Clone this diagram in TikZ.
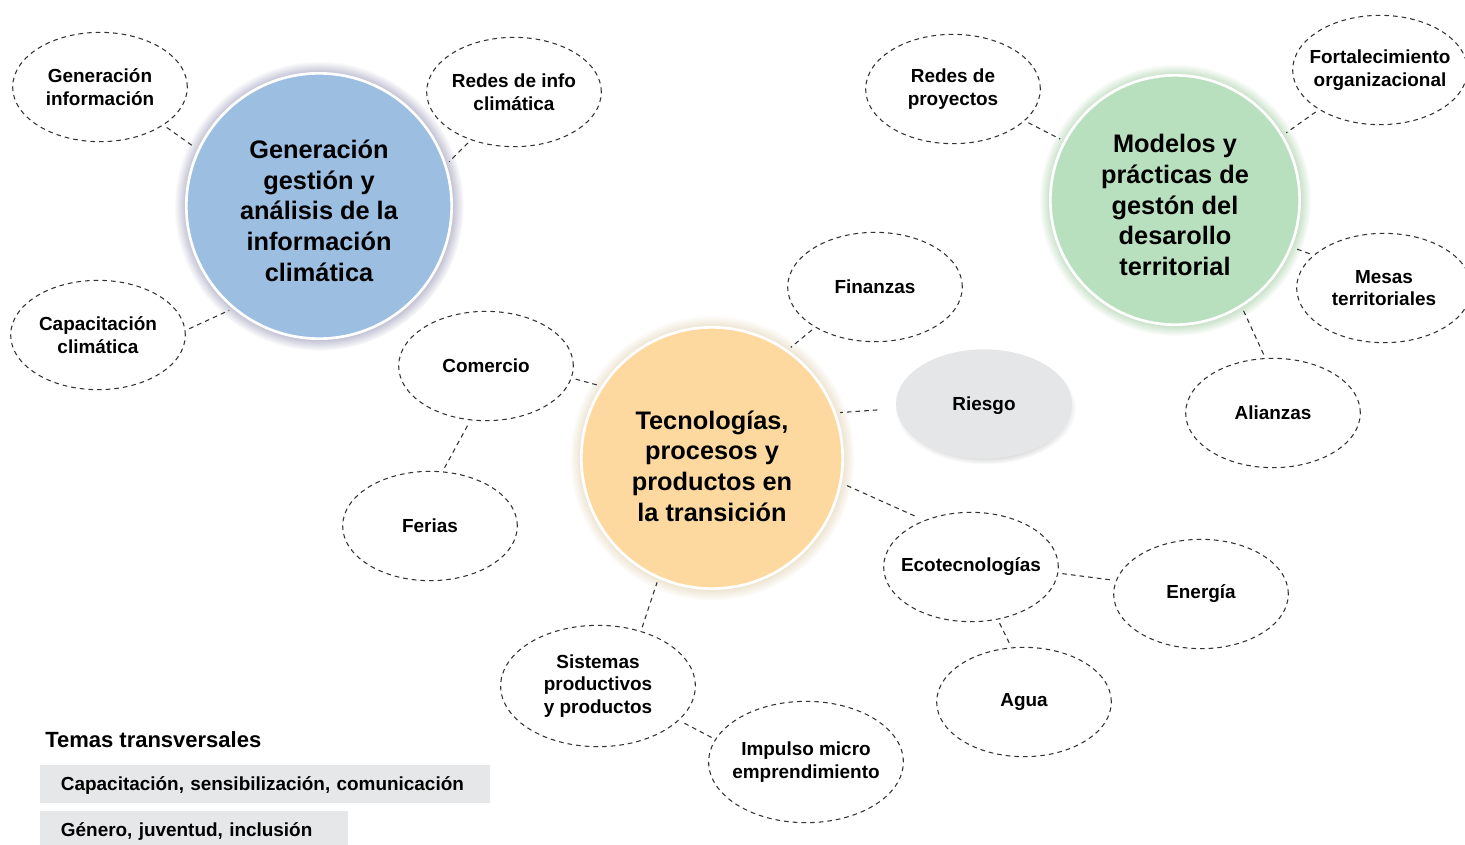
\documentclass[tikz,border=0pt]{standalone}
\usepackage{fontspec}
\setmainfont{Liberation Sans}
\usetikzlibrary{shapes.geometric,shadows}
\definecolor{infoblue}{HTML}{9BBEE1}
\definecolor{terrgreen}{HTML}{B9E0BE}
\definecolor{techorange}{HTML}{FDD9A0}
\definecolor{riskgray}{HTML}{E5E6E8}
\definecolor{bargray}{HTML}{E6E7E8}
\definecolor{linegray}{HTML}{333333}

\begin{document}
\begin{tikzpicture}[x=0.75pt,y=-0.75pt,
    bigcircle/.style={circle,draw=white,line width=2pt,inner sep=0pt},
    bigtext/.style={align=center,inner sep=0pt,font=\bfseries\fontsize{19}{23}\selectfont},
    topic/.style={ellipse,draw=linegray,line width=0.8pt,dash pattern=on 3.5pt off 3pt,
        minimum width=131pt,minimum height=82pt,inner xsep=-15pt,inner ysep=-5pt,
        align=center,font=\bfseries\fontsize{14.2}{17}\selectfont},
    wide topic/.style={topic,minimum width=146pt,minimum height=91pt},
    link/.style={draw=linegray,line width=0.8pt,dash pattern=on 3.5pt off 3pt,
        shorten >=3pt,shorten <=3pt},
    bar/.style={fill=bargray,anchor=north west,inner xsep=15.5pt,inner ysep=0pt,align=left,
        text depth=0pt,font=\bfseries\fontsize{14.2}{16}\selectfont}]
    \useasboundingbox (0,0) rectangle (1465,844);

    \node[bigcircle,fill=infoblue,minimum size=199pt,
        circular glow={fill=blue!30!black,opacity=0.45,shadow scale=1.09}] (gen) at (319,206) {};
    \node[bigtext] (gentext) at ([yshift=-3.5pt]gen.center)
        {Generación\\gestión y\\análisis de la\\información\\climática};
    \node[bigcircle,fill=terrgreen,minimum size=187pt,
        circular glow={fill=green!45!black,opacity=0.4,shadow scale=1.09}] (terr) at (1175,200) {};
    \node[bigtext] (terrtext) at ([yshift=-3.8pt]terr.center)
        {Modelos y\\prácticas de\\gestón del\\desarollo\\territorial};
    \node[bigcircle,fill=techorange,minimum size=196pt,
        circular glow={fill=brown!70!olive,opacity=0.4,shadow scale=1.09}] (tech) at (712,458) {};
    \node[bigtext] (techtext) at ([yshift=-6pt]tech.center)
        {Tecnologías,\\procesos y\\productos en\\la transición};
    \node[ellipse,fill=riskgray,minimum width=132pt,minimum height=82pt,inner sep=0pt,
        font=\bfseries\fontsize{14.2}{17}\selectfont,text depth=0pt,
        circular drop shadow={opacity=0.35,shadow scale=1.03,shadow xshift=1pt,shadow yshift=-3pt}]
        (riesgo) at (984,404) {Riesgo};

    \node[topic] (geninfo) at (100,87) {Generación\\información};
    \node[topic] (redinfo) at (514,92) {Redes de info\\climática};
    \node[topic] (capclim) at (98,335) {Capacitación\\climática};
    \node[topic] (redproy) at (953,89) {Redes de\\proyectos};
    \node[topic] (fortorg) at (1380,70) {Fortalecimiento\\organizacional};
    \node[topic] (mesas) at (1384,288) {Mesas\\territoriales};
    \node[topic] (alianzas) at (1273,413) {Alianzas};
    \node[topic] (finanzas) at (875,287) {Finanzas};
    \node[topic] (comercio) at (486,366) {Comercio};
    \node[topic] (ferias) at (430,526) {Ferias};
    \node[topic] (ecotec) at (971,567) {Ecotecnologías};
    \node[topic] (energia) at (1201,594) {Energía};
    \node[topic] (agua) at (1024,702) {Agua};
    \node[wide topic] (sistemas) at (598,686) {Sistemas\\productivos\\y productos};
    \node[wide topic] (impulso) at (806,762) {Impulso micro\\emprendimiento};

    \draw[link] (geninfo.-31) -- (gen.155);
    \draw[link] (redinfo.-132) -- (gen.18);
    \draw[link] (capclim.3) -- (gen.-130);
    \draw[link] (redproy.-24) -- (terr.152);
    \draw[link] (fortorg.-147) -- (terr.31);
    \draw[link] (mesas.155) -- (terr.-22);
    \draw[link] (alianzas.98) -- (terr.-58);
    \draw[link] (finanzas.-146) -- (tech.55);
    \draw[link] (comercio.-8) -- (tech.147);
    \draw[link] (ferias.77) -- (comercio.-106);
    \draw[link,shorten <=14pt] (riesgo.183) -- (tech.20);
    \draw[link,shorten <=8pt] (ecotec.135) -- (tech.-11);
    \draw[link] (ecotec.-4) -- (energia.171);
    \draw[link] (ecotec.-63) -- (agua.103);
    \draw[link] (sistemas.52) -- (tech.-114);
    \draw[link] (impulso.166) -- (sistemas.-23);

    \node[anchor=west,inner sep=0pt,font=\bfseries\fontsize{16.5}{19}\selectfont] (temas) at (45,740)
        {Temas transversales};
    \node[bar,text width=306pt,minimum height=28pt] (tema1) at (40,765)
        {Capacitación, sensibilización, comunicación};
    \node[bar,text width=200pt,minimum height=27pt] (tema2) at (40,811)
        {Género, juventud, inclusión};
\end{tikzpicture}
\end{document}
